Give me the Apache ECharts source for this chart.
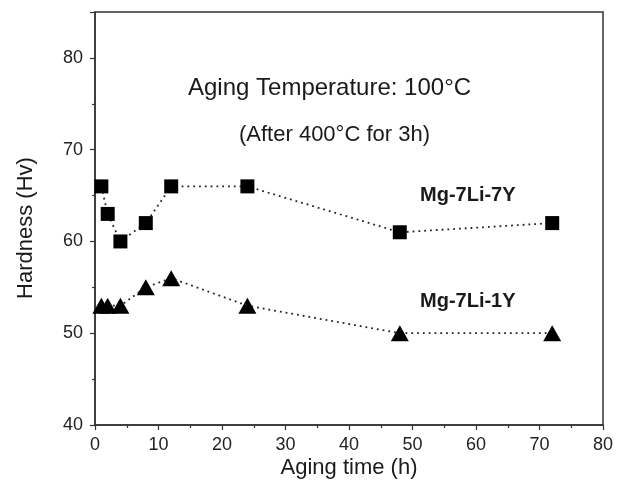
<!DOCTYPE html>
<html>
<head>
<meta charset="utf-8">
<script src="https://cdn.jsdelivr.net/npm/echarts@6/dist/echarts.min.js"></script>
<style>
  html, body { margin: 0; padding: 0; background: #fff; }
  #chartDom { width: 625px; height: 492px; }
</style>
</head>
<body>
<div id="chartDom"></div>
<script>
// aging time (h)
var agingTime = [1, 2, 4, 8, 12, 24, 48, 72];
// hardness values (Hv)
var hv7Y = [66, 63, 60, 62, 66, 66, 61, 62];
var hv1Y = [53, 53, 53, 55, 56, 53, 50, 50];
var xTicks = [0, 10, 20, 30, 40, 50, 60, 70, 80];
var yTicks = [40, 50, 60, 70, 80];

function pairs(xs, ys) {
    var out = [];
    for (var i = 0; i < xs.length; i++) out.push([xs[i], ys[i]]);
    return out;
}

var font = 'Liberation Sans, Arial, sans-serif';
var ink = '#1a1a1a';

var chartDom = echarts.init(document.getElementById('chartDom'));
chartDom.setOption({
    animation: false,
    grid: {
        left: 95, right: 22, top: 12, bottom: 67,
        show: true, borderColor: '#333', borderWidth: 1.5, backgroundColor: '#fff'
    },
    xAxis: {
        type: 'value', min: xTicks[0], max: xTicks[xTicks.length - 1], interval: 10,
        axisLine: { lineStyle: { color: '#333', width: 1.5 } },
        axisTick: { inside: false, length: 5, lineStyle: { color: '#333', width: 1.2 } },
        minorTick: { show: true, splitNumber: 2, length: 3, lineStyle: { color: '#333', width: 1.2 } },
        axisLabel: { fontFamily: font, fontSize: 18, color: '#222', margin: 11 },
        splitLine: { show: false }
    },
    yAxis: {
        type: 'value', min: yTicks[0], max: 85, interval: 10,
        axisLine: { lineStyle: { color: '#333', width: 1.5 } },
        axisTick: { inside: false, length: 5, lineStyle: { color: '#333', width: 1.2 } },
        minorTick: { show: true, splitNumber: 2, length: 3, lineStyle: { color: '#333', width: 1.2 } },
        axisLabel: {
            fontFamily: font, fontSize: 18, color: '#222', margin: 12,
            formatter: function (v) { return yTicks.indexOf(v) >= 0 ? String(v) : ''; }
        },
        splitLine: { show: false }
    },
    series: [{
        name: 'Mg-7Li-7Y',
        type: 'line',
        data: pairs(agingTime, hv7Y),
        symbol: 'rect', symbolSize: 14,
        itemStyle: { color: '#000' },
        lineStyle: { color: '#222', width: 1.8, type: [1.8, 4] },
        z: 3
    }, {
        name: 'Mg-7Li-1Y',
        type: 'line',
        data: pairs(agingTime, hv1Y),
        symbol: 'triangle', symbolSize: [18, 16],
        itemStyle: { color: '#000' },
        lineStyle: { color: '#222', width: 1.8, type: [1.8, 4] },
        z: 3
    }],
    graphic: [{
        type: 'text', left: 188, top: 76,
        style: { text: 'Aging Temperature: 100\u00b0C', font: '24px ' + font, fill: ink }
    }, {
        type: 'text', left: 239, top: 124,
        style: { text: '(After 400\u00b0C for 3h)', font: '22px ' + font, fill: ink }
    }, {
        type: 'text', left: 420, top: 185,
        style: { text: 'Mg-7Li-7Y', font: 'bold 20px ' + font, fill: ink }
    }, {
        type: 'text', left: 420, top: 291,
        style: { text: 'Mg-7Li-1Y', font: 'bold 20px ' + font, fill: ink }
    }, {
        type: 'text', x: 26, y: 228, rotation: Math.PI / 2,
        style: {
            text: 'Hardness (Hv)', font: '22px ' + font, fill: ink,
            align: 'center', verticalAlign: 'middle'
        }
    }, {
        type: 'text', x: 349, y: 468,
        style: {
            text: 'Aging time (h)', font: '22px ' + font, fill: ink,
            align: 'center', verticalAlign: 'middle'
        }
    }]
});
</script>
</body>
</html>
